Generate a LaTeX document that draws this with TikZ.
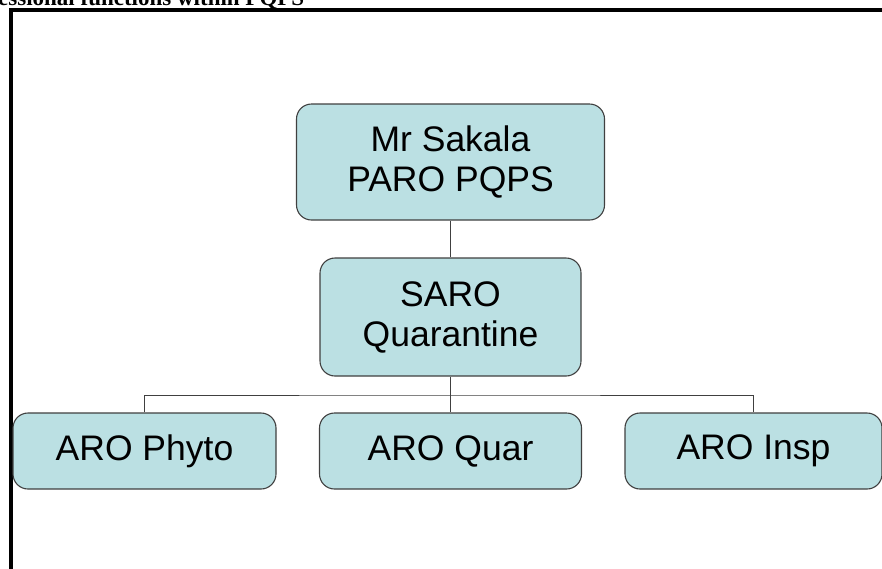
\documentclass[tikz,border=0pt]{standalone}
\usepackage{fontspec}
\setmainfont{Liberation Sans}
\newfontfamily\titlefont{Liberation Serif}
\definecolor{boxfill}{HTML}{BBE0E3}
\definecolor{boxline}{HTML}{404040}
\begin{document}
\begin{tikzpicture}[x=1pt,y=-1pt,
  orgbox/.style={draw=boxline, line width=1.1pt, fill=boxfill, rounded corners=15pt,
    align=center, inner sep=0pt, font=\fontsize{35.5}{40}\selectfont},
  link/.style={draw=boxline, line width=1pt}]
\useasboundingbox (0,0) rectangle (882,568);
\clip (0,0) rectangle (882,568);
\fill[white] (0,0) rectangle (882,568);
% title (cut off at top and left, as in the reference)
\node[anchor=base west, inner sep=0pt, font=\titlefont\bfseries\fontsize{23}{27}\selectfont] (title) at (-2,5.5) {essional functions within PQPS};
% frame
\draw[line width=4pt] (11,620) -- (11,10) -- (920,10);
% boxes
\node[orgbox, minimum width=308pt, minimum height=116pt] (top) at (450.5,162) {Mr Sakala\\PARO PQPS};
\node[orgbox, minimum width=261pt, minimum height=118pt] (saro) at (450.5,317) {SARO\\Quarantine};
\node[orgbox, minimum width=263pt, minimum height=76pt] (phyto) at (144.5,451) {ARO Phyto};
\node[orgbox, minimum width=262pt, minimum height=76pt] (quar) at (450.5,451) {ARO Quar};
\node[orgbox, minimum width=257pt, minimum height=76pt] (insp) at (753.5,451) {ARO Insp};
\coordinate (bus) at (450.5,395);
% connectors
\draw[link] (top.south) -- (saro.north);
\draw[link] (saro.south) -- (bus);
\draw[link] (bus) -- (quar.north);
\draw[link] (phyto.north) |- (bus) -| (insp.north);
\end{tikzpicture}
\end{document}
